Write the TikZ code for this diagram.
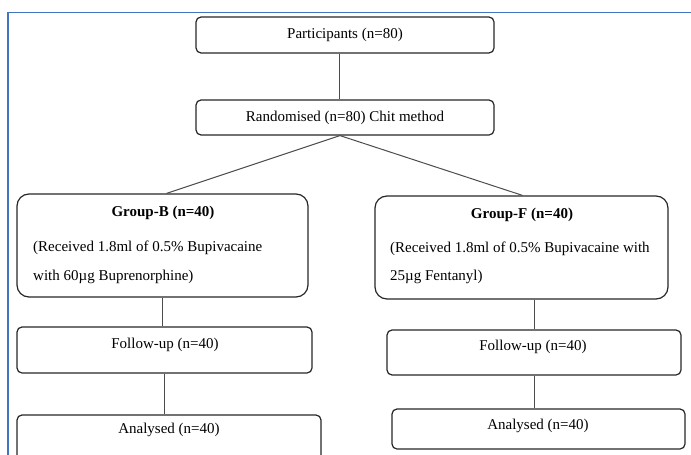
\documentclass[tikz,border=0pt]{standalone}
\usepackage{fontspec}
\setmainfont{Liberation Serif}
\usepackage{tikz}
\usetikzlibrary{positioning,calc}
\definecolor{frameblue}{RGB}{68,114,196}

\begin{document}
\begin{tikzpicture}[
    x=1pt, y=-1pt,
    % Stili per i box
    box/.style={rectangle, draw=black!85, line width=1.2pt, rounded corners=5pt, inner sep=0pt},
    groupbox/.style={box, rounded corners=12pt},
    % Stili per il testo
    boxtext/.style={font=\fontsize{15}{18}\selectfont, inner sep=0pt},
    grouptitle/.style={boxtext, font=\fontsize{15}{18}\selectfont\bfseries},
    % Stili per le connessioni
    link/.style={draw=black!70, line width=1pt}
]
\useasboundingbox (0,0) rectangle (691,455);

% === CORNICE ===
\draw[frameblue, line width=1.5pt] (8,455) -- (8,12.5) -- (691,12.5);

% === PARTECIPANTI E RANDOMIZZAZIONE ===
\node[box, boxtext, minimum width=298pt, minimum height=36pt] (part) at (345,35) {Participants (n=80)};
\node[box, boxtext, minimum width=298pt, minimum height=35pt] (rand) at (345,117.5) {Randomised (n=80) Chit method};

% === GRUPPO B ===
\node[groupbox, minimum width=291pt, minimum height=103pt] (grpB) at (162.5,245.5) {};
\node[grouptitle] (titleB) at (163,213) {Group-B (n=40)};
\node[boxtext, anchor=west] (drugB1) at (33,248) {(Received 1.8ml of 0.5\% Bupivacaine};
\node[boxtext, anchor=west] (drugB2) at (33,277) {with 60µg Buprenorphine)};

\node[box, minimum width=295pt, minimum height=46pt] (fupB) at (164.5,350) {};
\node[boxtext] (fupBtext) at (165,345) {Follow-up (n=40)};
\node[box, minimum width=304pt, minimum height=50pt] (anaB) at (169,440) {};
\node[boxtext] (anaBtext) at (169,430) {Analysed (n=40)};

% === GRUPPO F ===
\node[groupbox, minimum width=293pt, minimum height=103pt] (grpF) at (521.5,247.5) {};
\node[grouptitle] (titleF) at (522,215) {Group-F (n=40)};
\node[boxtext, anchor=west] (drugF1) at (390,249) {(Received 1.8ml of 0.5\% Bupivacaine with};
\node[boxtext, anchor=west] (drugF2) at (390,277) {25µg Fentanyl)};

\node[box, minimum width=294pt, minimum height=45pt] (fupF) at (534,352.5) {};
\node[boxtext] (fupFtext) at (533,347) {Follow-up (n=40)};
\node[box, minimum width=293pt, minimum height=40pt] (anaF) at (538.5,429) {};
\node[boxtext] (anaFtext) at (538,426) {Analysed (n=40)};

% === CONNESSIONI ===
\draw[link] ([xshift=-6pt]part.south) -- ([xshift=-6pt]rand.north);
\draw[link] ([xshift=-5pt]rand.south) -- ([xshift=4pt]grpB.north);
\draw[link] ([xshift=-5pt]rand.south) -- ([xshift=1pt]grpF.north);

\draw[link] (grpB.south) -- (grpB.south |- fupB.north);
\draw[link] (fupB.south) -- (fupB.south |- anaB.north);

\draw[link] (fupF.north |- grpF.south) -- (fupF.north);
\draw[link] (fupF.south) -- (fupF.south |- anaF.north);

\end{tikzpicture}
\end{document}
